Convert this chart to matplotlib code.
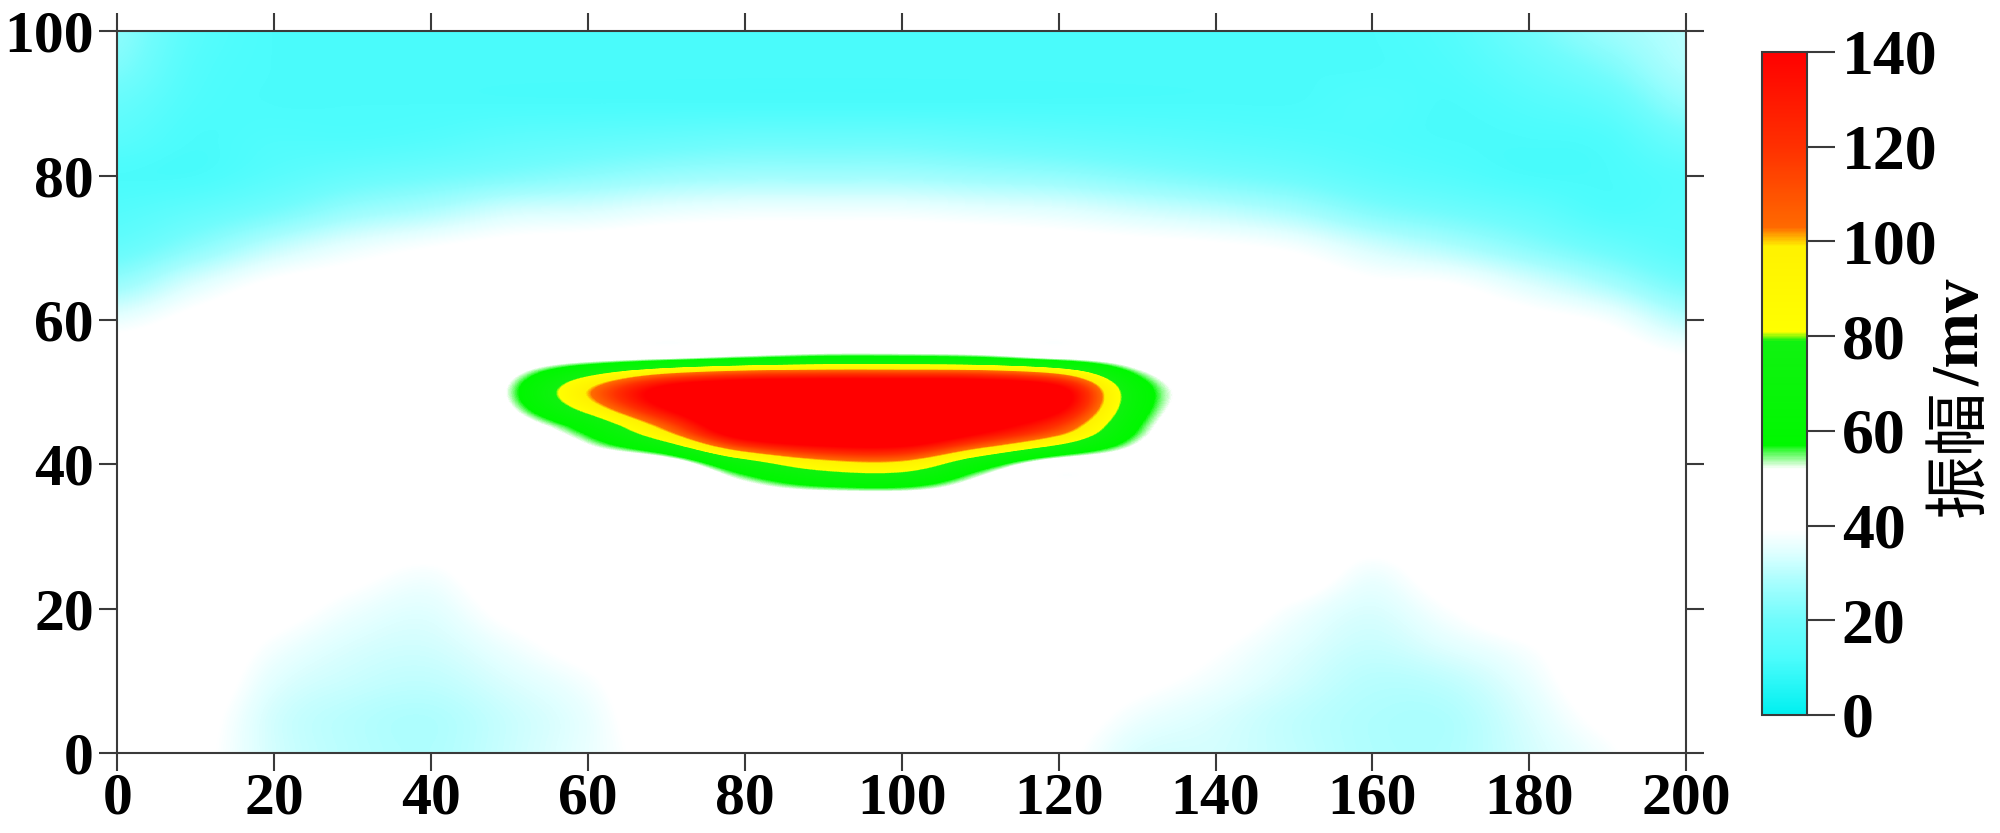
import numpy as np
import matplotlib
matplotlib.use('Agg')
import matplotlib.pyplot as plt
from matplotlib.colors import LinearSegmentedColormap

# grid positions (m)
x_pos = [0, 10, 20, 30, 40, 50, 60, 70, 80, 90, 100, 110, 120, 130, 140, 150, 160, 170, 180, 190, 200]
y_pos = [100, 95, 90, 85, 80, 75, 70, 65, 60, 55, 50, 45, 40, 35, 30, 25, 20, 15, 10, 5, 0]

# amplitude (mv), one list per x position, top (y=100) to bottom (y=0)
amp_columns = [
    [24, 22, 18, 15, 12, 14, 18, 26, 36, 43, 45, 45, 45, 45, 45, 45, 45, 45, 45, 45, 45],
    [15, 14, 13, 12, 12, 17, 24, 34, 41, 44, 45, 45, 45, 45, 45, 45, 45, 45, 44, 42, 41],
    [12, 12, 12, 13, 15, 21, 31, 40, 44, 45, 45, 45, 45, 45, 45, 45, 42, 38, 35, 33, 33],
    [12, 12, 12, 13, 18, 26, 36, 42, 45, 45, 45, 45, 45, 45, 44, 41, 37, 34, 32, 30, 30],
    [12, 12, 12, 14, 20, 29, 39, 43, 45, 45, 45, 45, 45, 45, 43, 38, 35, 33, 31, 29, 29],
    [12, 12, 12, 16, 22, 33, 41, 44, 45, 45, 53, 46, 45, 45, 45, 44, 41, 37, 34, 32, 32],
    [12, 12, 12, 17, 24, 34, 42, 45, 45, 45, 100, 62, 45, 45, 45, 45, 45, 42, 38, 36, 36],
    [12, 12, 12, 18, 26, 36, 43, 45, 45, 47, 150, 105, 44, 46, 45, 45, 45, 45, 45, 44, 42],
    [12, 12, 12, 19, 27, 37, 43, 45, 45, 52, 175, 165, 70, 45, 46, 45, 45, 45, 45, 45, 45],
    [12, 12, 12, 19, 27, 37, 43, 45, 45, 56, 180, 180, 92, 44, 47, 45, 45, 45, 45, 45, 45],
    [12, 12, 12, 19, 27, 37, 43, 45, 45, 56, 180, 180, 95, 44, 47, 45, 45, 45, 45, 45, 45],
    [12, 12, 12, 18, 26, 36, 43, 45, 45, 54, 175, 150, 65, 44, 46, 45, 45, 45, 45, 45, 45],
    [12, 12, 12, 17, 25, 35, 42, 45, 45, 47, 150, 115, 44, 45, 45, 45, 45, 45, 45, 43, 41],
    [12, 12, 12, 16, 23, 33, 41, 44, 45, 45, 66, 58, 45, 45, 45, 45, 45, 45, 41, 37, 34],
    [12, 12, 12, 15, 21, 31, 40, 43, 45, 45, 47, 45, 45, 45, 45, 45, 44, 40, 37, 34, 33],
    [12, 12, 12, 14, 19, 28, 38, 43, 45, 45, 45, 45, 45, 45, 45, 44, 38, 35, 33, 31, 31],
    [12, 12, 13, 13, 16, 23, 33, 40, 44, 45, 45, 45, 45, 45, 42, 37, 34, 32, 30, 29, 29],
    [14, 13, 12, 12, 14, 20, 29, 39, 43, 45, 45, 45, 45, 45, 45, 43, 39, 35, 31, 29, 29],
    [20, 17, 14, 12, 12, 17, 24, 34, 41, 44, 45, 45, 45, 45, 45, 45, 45, 39, 36, 34, 33],
    [26, 22, 17, 13, 12, 13, 19, 28, 38, 43, 45, 45, 45, 45, 45, 45, 45, 45, 44, 41, 38],
    [30, 29, 25, 19, 14, 14, 15, 21, 30, 39, 43, 45, 45, 45, 45, 45, 45, 45, 45, 45, 45],
]

x_ticks = [0, 20, 40, 60, 80, 100, 120, 140, 160, 180, 200]
y_ticks = [0, 20, 40, 60, 80, 100]
cbar_ticks = [0, 20, 40, 60, 80, 100, 120, 140]

plt.rcParams['font.family'] = ['Liberation Serif', 'DejaVu Serif']
plt.rcParams['font.weight'] = 'bold'

vmax = 140.0
nodes = [
    (0, '#00F0F0'), (12, '#4CFCFC'), (20, '#70FCFC'), (28, '#A8FEFE'),
    (34, '#DDFFFF'), (39, '#FFFFFF'), (52, '#FFFFFF'), (57, '#00F800'),
    (79, '#10F210'), (81, '#FFFF00'), (99, '#FFF200'), (103, '#FF6A00'),
    (120, '#FF3000'), (140, '#FF0000'),
]
cmap = LinearSegmentedColormap.from_list('amp', [(v / vmax, c) for v, c in nodes], N=512)

amp = np.array(amp_columns, dtype=float).T
dx = (x_pos[1] - x_pos[0]) / 2
dy = (y_pos[0] - y_pos[1]) / 2

fig = plt.figure(figsize=(20, 8.33), dpi=100)
ax = fig.add_axes([0.0587, 0.096, 0.7844, 0.8663])
im = ax.imshow(amp, cmap=cmap, vmin=0, vmax=vmax, origin='upper', aspect='auto',
               interpolation='catrom',
               extent=(x_pos[0] - dx, x_pos[-1] + dx, y_pos[-1] - dy, y_pos[0] + dy))
ax.set_xlim(0, 200)
ax.set_ylim(0, 100)
ax.set_xticks(x_ticks)
ax.set_yticks(y_ticks)
ax.tick_params(direction='out', length=13, width=1.5, color='#3a3a3a',
               top=True, right=True, labeltop=False, labelright=False)
ax.tick_params(axis='y', labelsize=43, pad=4)
ax.tick_params(axis='x', labelsize=43, pad=1)
for s in ax.spines.values():
    s.set_linewidth(1.5)
    s.set_edgecolor('#3a3a3a')

cax = fig.add_axes([0.881, 0.1417, 0.0225, 0.796])
cb = fig.colorbar(im, cax=cax, ticks=cbar_ticks)
cb.outline.set_edgecolor('#3a3a3a')
cb.outline.set_linewidth(1.5)
cax.tick_params(length=20, width=1.5, color='#3a3a3a', labelsize=46, pad=5)

# colorbar title: Chinese part plain, unit part bold
t1 = fig.text(0.989, 0.3794, '振幅', rotation=90, rotation_mode='anchor',
              ha='left', va='baseline', fontsize=46,
              family=['Noto Sans CJK SC', 'DejaVu Sans'], weight='normal')
fig.canvas.draw()
bb = t1.get_window_extent()
fig.text(0.989, bb.y1 / fig.bbox.height + 0.004, '/mv', rotation=90, rotation_mode='anchor',
         ha='left', va='baseline', fontsize=48, weight='bold')

fig.savefig('out.png', dpi=100)
